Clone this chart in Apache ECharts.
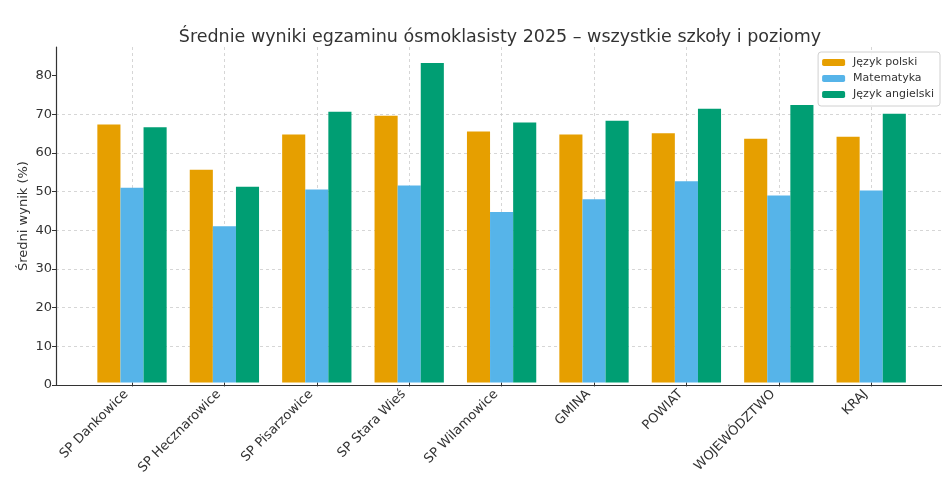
<!DOCTYPE html>
<html><head><meta charset="utf-8">
<script src="https://cdn.jsdelivr.net/npm/echarts@6/dist/echarts.min.js"></script>
<style>html,body{margin:0;padding:0;background:#fff}#c{width:942px;height:477px}</style>
</head><body><div id="c"></div>
<script>
const categories = ['SP Dankowice','SP Hecznarowice','SP Pisarzowice','SP Stara Wieś','SP Wilamowice','GMINA','POWIAT','WOJEWÓDZTWO','KRAJ'];
const polski =    [67.2, 55.4, 64.6, 69.5, 65.4, 64.6, 64.9, 63.5, 64.0];
const matematyka =[50.7, 40.7, 50.3, 51.3, 44.4, 47.7, 52.4, 48.7, 50.0];
const angielski = [66.5, 51.0, 70.5, 83.2, 67.7, 68.2, 71.3, 72.3, 70.0];
const seriesNames = ['Język polski','Matematyka','Język angielski'];
const yTicks = [0,10,20,30,40,50,60,70,80];

const font = 'DejaVu Sans';
const txt = '#333333';
const chart = echarts.init(document.getElementById('c'), null, {renderer:'canvas'});
const TOP=47, BOTTOM=92, YMAX=87.4;
const mkBar = (name, data, color) => ({
  name, type:'bar', data, xAxisIndex:1, yAxisIndex:1,
  barWidth:'25%', barGap:'0%',
  itemStyle:{color},
  emphasis:{disabled:true}
});
chart.setOption({
  animation:false,
  backgroundColor:'#ffffff',
  title:{text:'Średnie wyniki egzaminu ósmoklasisty 2025 – wszystkie szkoły i poziomy',
    left:495, textAlign:'center', top:23,
    textStyle:{fontFamily:font, fontSize:17.5, fontWeight:'normal', color:txt}},
  legend:{orient:'vertical', right:2, top:52, data:seriesNames,
    itemWidth:23, itemHeight:7, itemGap:5,
    padding:[5,6,6,4], borderColor:'#d0d0d0', borderWidth:1, borderRadius:3,
    backgroundColor:'rgba(255,255,255,0.85)',
    textStyle:{fontFamily:font, fontSize:11, color:txt, padding:[0,0,0,3]}},
  grid:[
    {left:56, right:-4, top:TOP, bottom:BOTTOM, containLabel:false},
    {left:85.8, width:831.6, top:TOP, bottom:BOTTOM, containLabel:false}
  ],
  xAxis:[
    {type:'value', gridIndex:0, min:0, max:1, show:true,
     axisLine:{show:true, onZero:false, lineStyle:{color:'#333', width:1.2}},
     axisTick:{show:false}, axisLabel:{show:false}, splitLine:{show:false}},
    {type:'category', gridIndex:1, data:categories,
     axisLine:{show:false},
     axisTick:{show:true, alignWithLabel:true, length:4, lineStyle:{color:'#333'}},
     splitLine:{show:true, alignWithLabel:true, lineStyle:{color:'#cccccc', type:[3,3], width:0.8}},
     axisLabel:{rotate:45, interval:0, fontFamily:font, fontSize:13, color:txt, margin:4,
       padding:[0,8,0,0]}}
  ],
  yAxis:[
    {type:'value', gridIndex:0, min:0, max:YMAX, interval:10,
     name:'Średni wynik (%)', nameLocation:'middle', nameGap:26, nameMoveOverlap:false,
     nameTextStyle:{fontFamily:font, fontSize:13, color:txt},
     axisLine:{show:true, lineStyle:{color:'#333', width:1.2}},
     axisTick:{show:true, length:4, lineStyle:{color:'#333'}, customValues: yTicks},
     axisLabel:{fontFamily:font, fontSize:13, color:txt, margin:4,
       customValues: yTicks},
     splitLine:{show:true, showMaxLine:false, lineStyle:{color:'#cccccc', type:[3,3], width:0.8}}},
    {type:'value', gridIndex:1, min:0, max:YMAX, show:false, splitLine:{show:false}}
  ],
  series:[
    mkBar(seriesNames[0], polski, '#E69F00'),
    mkBar(seriesNames[1], matematyka, '#56B4E9'),
    mkBar(seriesNames[2], angielski, '#009E73')
  ]
});
</script></body></html>
